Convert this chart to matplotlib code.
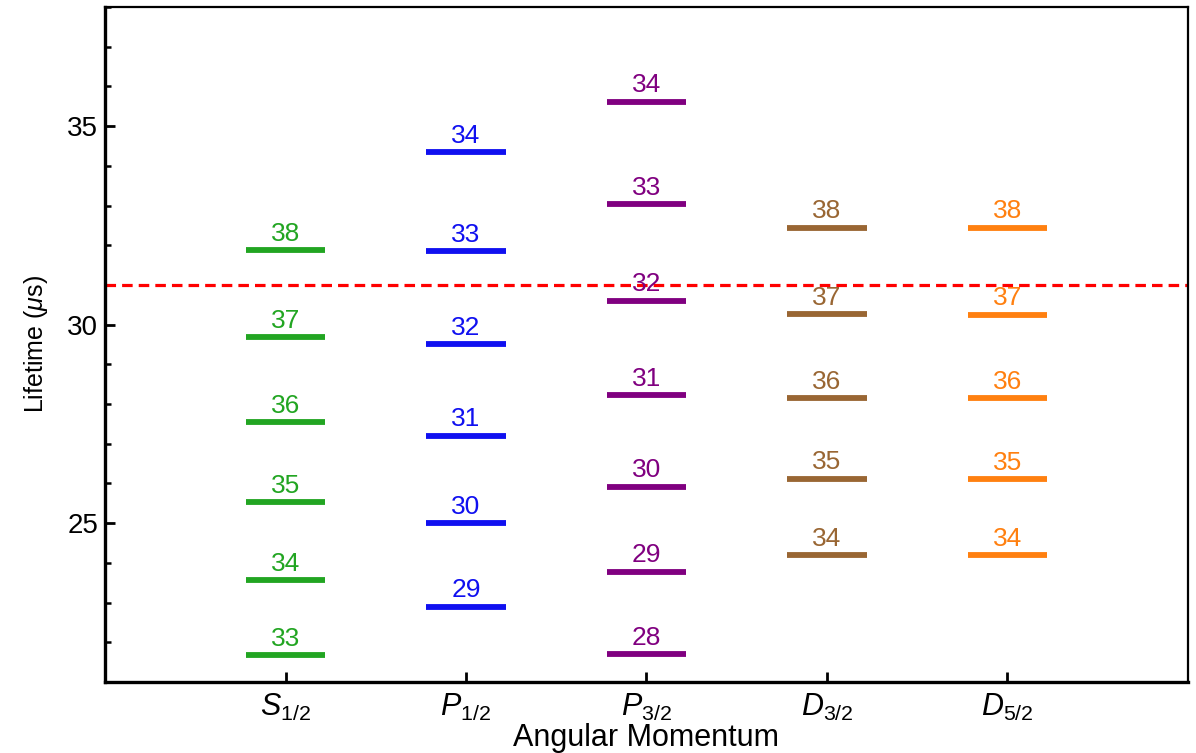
import matplotlib
matplotlib.use("Agg")
import matplotlib.pyplot as plt
from matplotlib.ticker import MultipleLocator

plt.rcParams['font.family'] = ['Liberation Sans', 'DejaVu Sans']
plt.rcParams['mathtext.fontset'] = 'custom'
plt.rcParams['mathtext.rm'] = 'Liberation Sans'
plt.rcParams['mathtext.it'] = 'Liberation Sans:italic'
plt.rcParams['mathtext.bf'] = 'Liberation Sans:bold'

# ---- data ----
categories = [r'$S_{1/2}$', r'$P_{1/2}$', r'$P_{3/2}$', r'$D_{3/2}$', r'$D_{5/2}$']

s12_n = [33, 34, 35, 36, 37, 38]
s12_tau = [21.68, 23.57, 25.53, 27.55, 29.68, 31.87]

p12_n = [29, 30, 31, 32, 33, 34]
p12_tau = [22.90, 25.00, 27.20, 29.50, 31.85, 34.34]

p32_n = [28, 29, 30, 31, 32, 33, 34]
p32_tau = [21.70, 23.78, 25.92, 28.22, 30.60, 33.03, 35.62]

d32_n = [34, 35, 36, 37, 38]
d32_tau = [24.20, 26.12, 28.15, 30.26, 32.44]

d52_n = [34, 35, 36, 37, 38]
d52_tau = [24.19, 26.10, 28.14, 30.25, 32.44]

threshold = 31.0

series_n = [s12_n, p12_n, p32_n, d32_n, d52_n]
series_tau = [s12_tau, p12_tau, p32_tau, d32_tau, d52_tau]
colors = ['#22a522', '#1010f0', '#800080', '#996633', '#ff8010']

# ---- figure ----
fig = plt.figure(figsize=(11.96, 7.53), dpi=100)
ax = fig.add_axes([0.0878, 0.0943, 0.9055, 0.8964])

half = 0.22
for i, (ns, taus, c) in enumerate(zip(series_n, series_tau, colors)):
    x = i + 1
    ax.hlines(taus, x - half, x + half, colors=c, linewidth=4.2, capstyle='butt')
    for n, t in zip(ns, taus):
        ax.text(x, t + 0.11, str(n), color=c, ha='center', va='bottom', fontsize=19)

ax.axhline(threshold, color='#ff0000', linestyle=(0, (3.3, 1.9)), linewidth=2.3)

ax.set_xlim(0, 6)
ax.set_ylim(21, 38)
ax.set_xticks(range(1, len(categories) + 1))
ax.set_xticklabels(categories, fontsize=22)
ax.yaxis.set_major_locator(MultipleLocator(5))
ax.yaxis.set_minor_locator(MultipleLocator(1))

ax.tick_params(axis='both', which='major', direction='in', length=7, width=2)
ax.tick_params(axis='y', which='minor', direction='in', length=4, width=1.8)
ax.tick_params(axis='y', which='major', labelsize=20, pad=5)
ax.tick_params(axis='x', which='major', pad=7)

for side in ['left', 'bottom']:
    ax.spines[side].set_linewidth(2.4)
for side in ['top', 'right']:
    ax.spines[side].set_linewidth(1.6)

ax.set_xlabel('Angular Momentum', fontsize=22, labelpad=0)
ax.set_ylabel(r'Lifetime ($\mu$s)', fontsize=18, labelpad=12)

fig.savefig('out.png', dpi=100)
